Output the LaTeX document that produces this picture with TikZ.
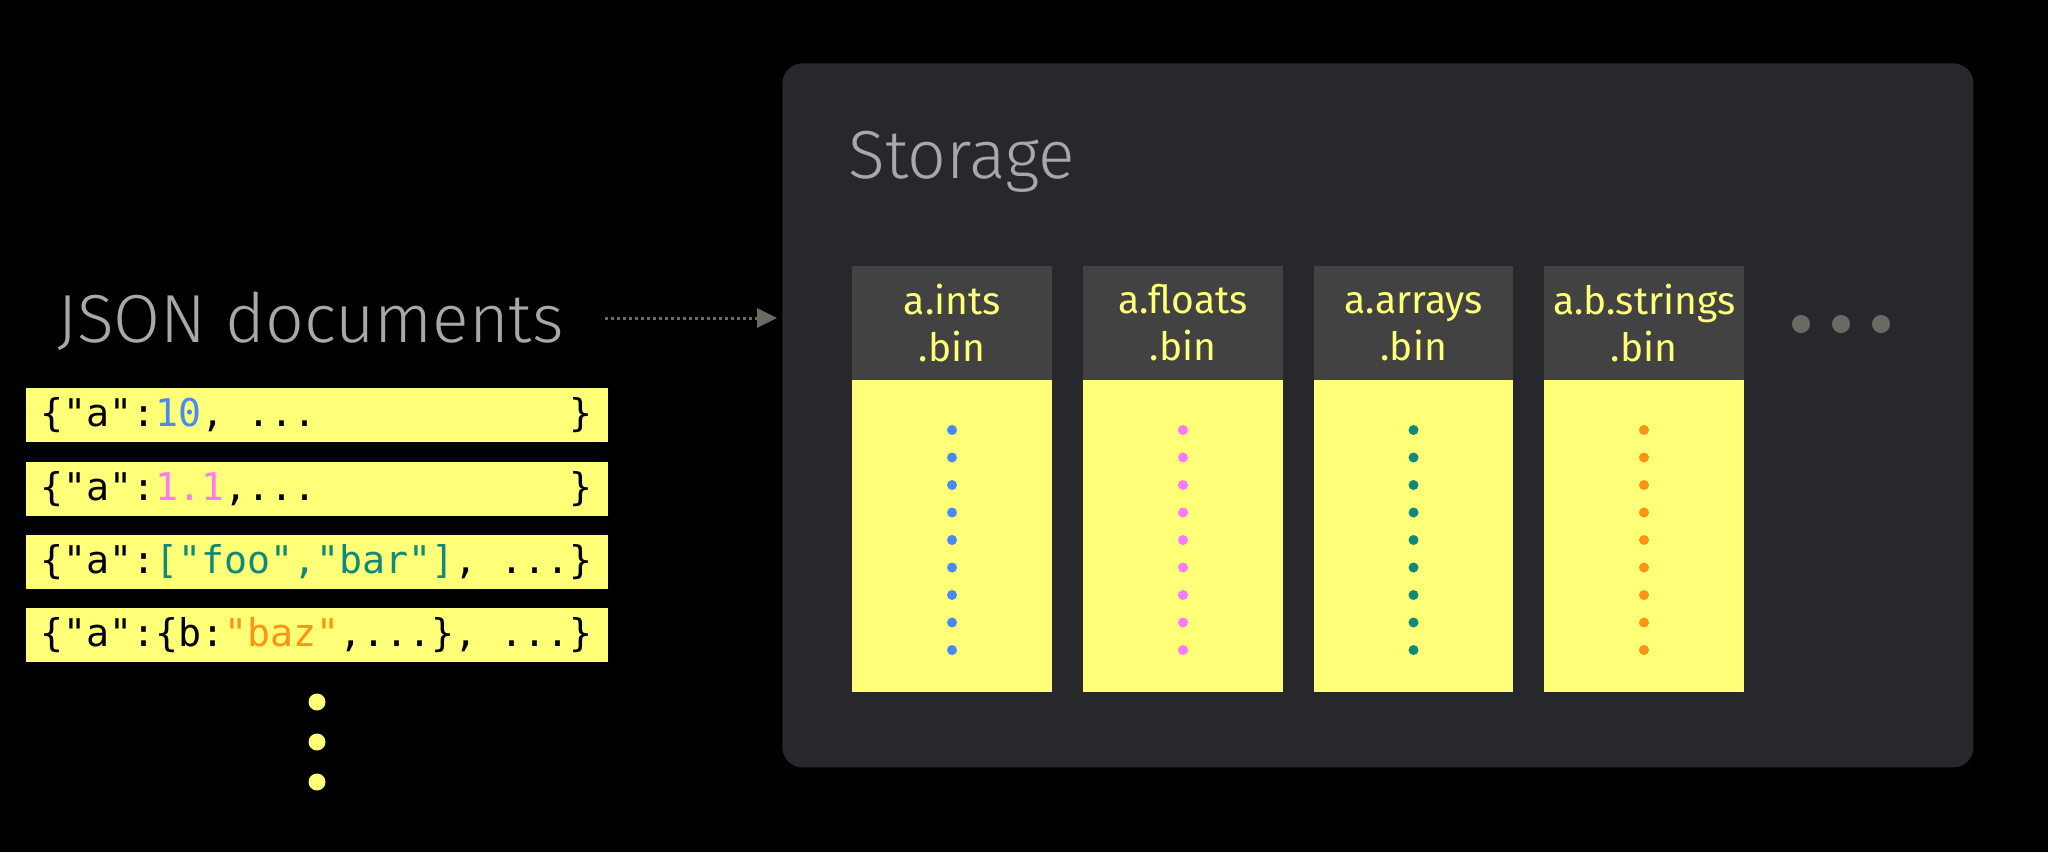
\documentclass[tikz,border=0pt]{standalone}
\usepackage{fontspec}
\setmainfont{Fira Sans}
\newfontfamily\thinfont{Fira Sans Light}
\setmonofont{DejaVu Sans Mono}
\usetikzlibrary{arrows.meta}
\definecolor{panelc}{HTML}{27282C}
\definecolor{hdrc}{HTML}{424242}
\definecolor{yel}{HTML}{FFFF78}
\definecolor{cblue}{HTML}{4A88F5}
\definecolor{cpink}{HTML}{FF78FF}
\definecolor{cteal}{HTML}{108A78}
\definecolor{corange}{HTML}{FF9312}
\definecolor{gdots}{HTML}{6A6A64}
\definecolor{titlec}{HTML}{A8A8A8}
\definecolor{arrowc}{HTML}{6B6B63}
\newcommand{\hl}[1]{#1\vphantom{bg}}
\begin{document}
\begin{tikzpicture}[x=0.5pt,y=-0.5pt,
  titletext/.style={text=titlec,font=\thinfont\fontsize{34pt}{40pt}\selectfont,inner sep=0pt},
  panelbox/.style={fill=panelc,rounded corners=10pt,minimum width=595.5pt,minimum height=352pt,inner sep=0pt,anchor=north west},
  rowbox/.style={fill=yel,minimum width=291pt,minimum height=27pt,inner xsep=7.5pt,inner ysep=0pt,anchor=north west,text=black,font=\ttfamily\fontsize{19.1pt}{22pt}\selectfont},
  hdrbox/.style={fill=hdrc,minimum width=99.75pt,minimum height=57pt,inner sep=0pt,anchor=north west},
  hdrtext/.style={inner sep=0pt,align=center,text=yel,font=\fontsize{19.5pt}{23.5pt}\selectfont},
  bodybox/.style={fill=yel,minimum width=99.75pt,minimum height=156pt,inner sep=0pt,anchor=north west},
  flowarrow/.style={draw=arrowc,line width=1.5pt,dash pattern=on 1.5pt off 1.5pt,-{Triangle[length=10pt,width=9.5pt,fill=arrowc]}}
]
\useasboundingbox[fill=black] (0,0) rectangle (2048,852);

% storage panel
\node[panelbox] (panel) at (782,63) {};
\node[titletext,anchor=base west] (storage) at (848,178) {Storage};

% JSON title
\node[titletext,anchor=base west] (json) at (57,342) {JSON documents};

% arrow
\coordinate (astart) at (605,318);
\draw[flowarrow] (astart) -- ([xshift=-2.5pt]panel.west |- astart);

% JSON rows
\node[rowbox] (r1) at (25.5,388) {\makebox[276pt][l]{\{"a":\textcolor{cblue}{10}, ...\hfill\}}};
\node[rowbox] (r2) at (25.5,461.5) {\makebox[276pt][l]{\{"a":\textcolor{cpink}{1.1},...\hfill\}}};
\node[rowbox] (r3) at (25.5,535) {\makebox[276pt][l]{\{"a":\textcolor{cteal}{["foo","bar"]}, ...\hfill\}}};
\node[rowbox] (r4) at (25.5,608) {\makebox[276pt][l]{\{"a":\{b:\textcolor{corange}{"baz"},...\}, ...\hfill\}}};

% yellow ellipsis dots
\foreach \yy in {702,742,782}
  \fill[yel] (317,\yy) circle[radius=4.25pt];

% columns
\foreach \xx/\lab/\col/\nm in {852/a.ints/cblue/c1,1083/a.floats/cpink/c2,1313.5/a.arrays/cteal/c3,1544/a.b.strings/corange/c4}{
  \node[hdrbox] (\nm h) at (\xx,266) {};
  \node[hdrtext] (\nm t) at ([yshift=-1.75pt]\nm h.center) {\hl{\lab}\\\hl{.bin}};
  \node[bodybox] (\nm b) at (\xx,380) {};
  \foreach \k in {0,...,8}
    \fill[\col] (\xx+100,430+27.5*\k) circle[radius=2.5pt];
}

% gray ellipsis
\foreach \xx in {1801,1841,1881}
  \fill[gdots] (\xx,324) circle[radius=4.5pt];
\end{tikzpicture}
\end{document}
